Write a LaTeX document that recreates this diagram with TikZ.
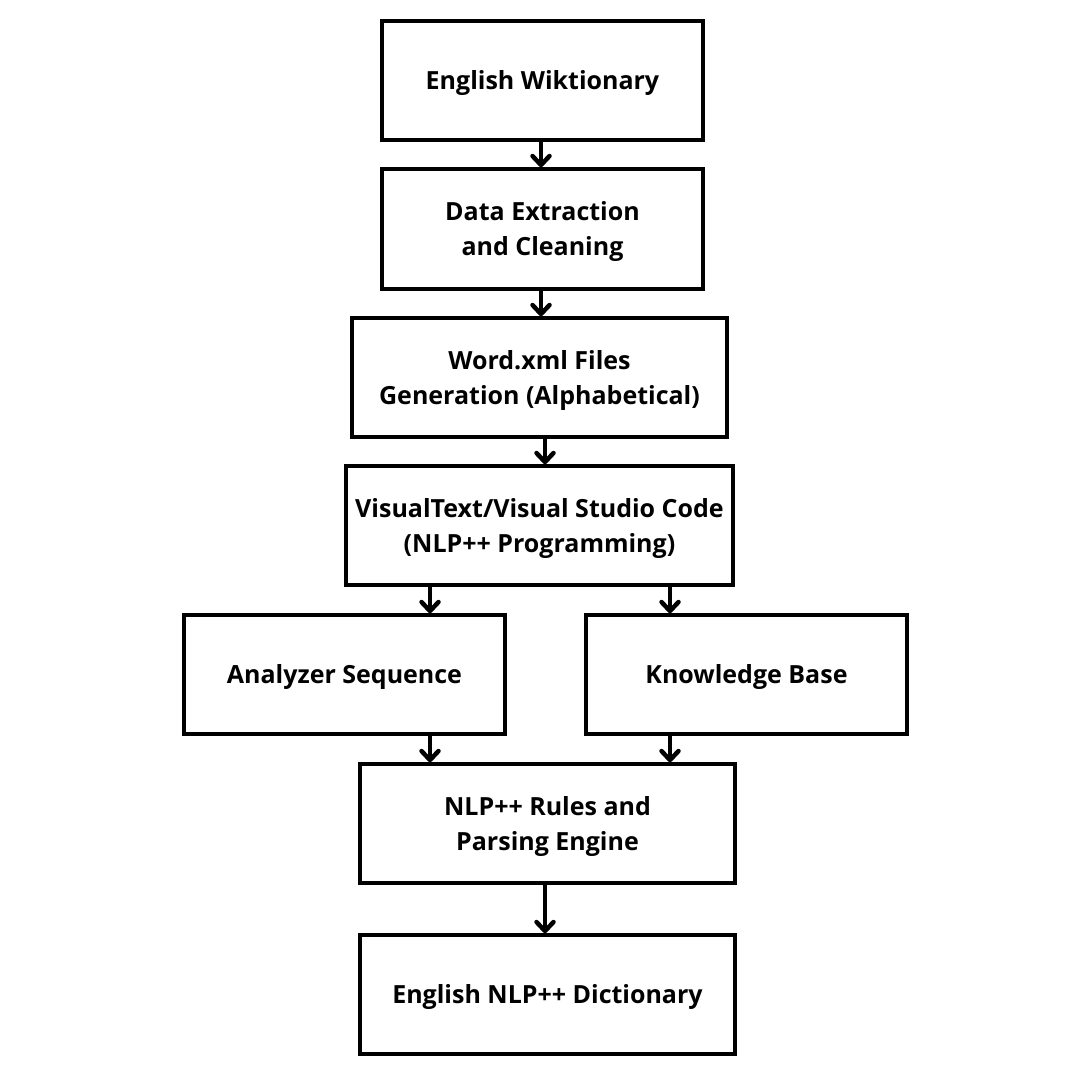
\documentclass[tikz,border=0pt]{standalone}
\usepackage{fontspec}
\setmainfont{Open Sans}
\usetikzlibrary{arrows.meta}
\begin{document}
\begin{tikzpicture}[x=1pt,y=-1pt,
  box/.style={draw=black,line width=3.5pt,fill=white,inner sep=0pt},
  txt/.style={align=center,inner sep=0pt,font=\fontsize{25}{35}\selectfont\bfseries},
  arr/.style={line width=4.5pt,-{Straight Barb[length=9pt,width=17pt,line cap=round,line join=round]}}]
\useasboundingbox (0,0) rectangle (1080,1080);
\fill[white] (0,0) rectangle (1080,1080);
\node[box,minimum width=321pt,minimum height=119pt] (b1) at (542.5,80.5) {};
\node[box,minimum width=321pt,minimum height=120pt] (b2) at (542.5,229) {};
\node[box,minimum width=375pt,minimum height=119pt] (b3) at (539.5,377.5) {};
\node[box,minimum width=387pt,minimum height=119pt] (b4) at (539.5,525.5) {};
\node[box,minimum width=321pt,minimum height=119pt] (b5) at (344.5,674.5) {};
\node[box,minimum width=321pt,minimum height=119pt] (b6) at (746.5,674.5) {};
\node[box,minimum width=375pt,minimum height=119pt] (b7) at (547.5,823.5) {};
\node[box,minimum width=375pt,minimum height=119pt] (b8) at (547.5,994.5) {};
\node[txt] (t1) at ([yshift=-2.5pt]b1.center) {English Wiktionary};
\node[txt] (t2) at ([yshift=-2.5pt]b2.center) {Data Extraction\\ and Cleaning};
\node[txt] (t3) at ([yshift=-2.5pt]b3.center) {Word.xml Files\\Generation (Alphabetical)};
\node[txt] (t4) at ([yshift=-2.5pt]b4.center) {VisualText/Visual Studio Code\\(NLP++ Programming)};
\node[txt] (t5) at ([yshift=-2.5pt]b5.center) {Analyzer Sequence};
\node[txt] (t6) at ([yshift=-2.5pt]b6.center) {Knowledge Base};
\node[txt] (t7) at ([yshift=-2.5pt]b7.center) {NLP++ Rules and\\Parsing Engine};
\node[txt] (t8) at ([yshift=-2.5pt]b8.center) {English NLP++ Dictionary};
\draw[arr] (b1.south -| 541,0) -- (b2.north -| 541,0);
\draw[arr] (b2.south -| 541,0) -- (b3.north -| 541,0);
\draw[arr] (b3.south -| 545,0) -- (b4.north -| 545,0);
\draw[arr] (b4.south -| 430,0) -- (b5.north -| 430,0);
\draw[arr] (b4.south -| 670,0) -- (b6.north -| 670,0);
\draw[arr] (b5.south -| 430,0) -- (b7.north -| 430,0);
\draw[arr] (b6.south -| 670,0) -- (b7.north -| 670,0);
\draw[arr] (b7.south -| 545,0) -- (b8.north -| 545,0);
\end{tikzpicture}
\end{document}
